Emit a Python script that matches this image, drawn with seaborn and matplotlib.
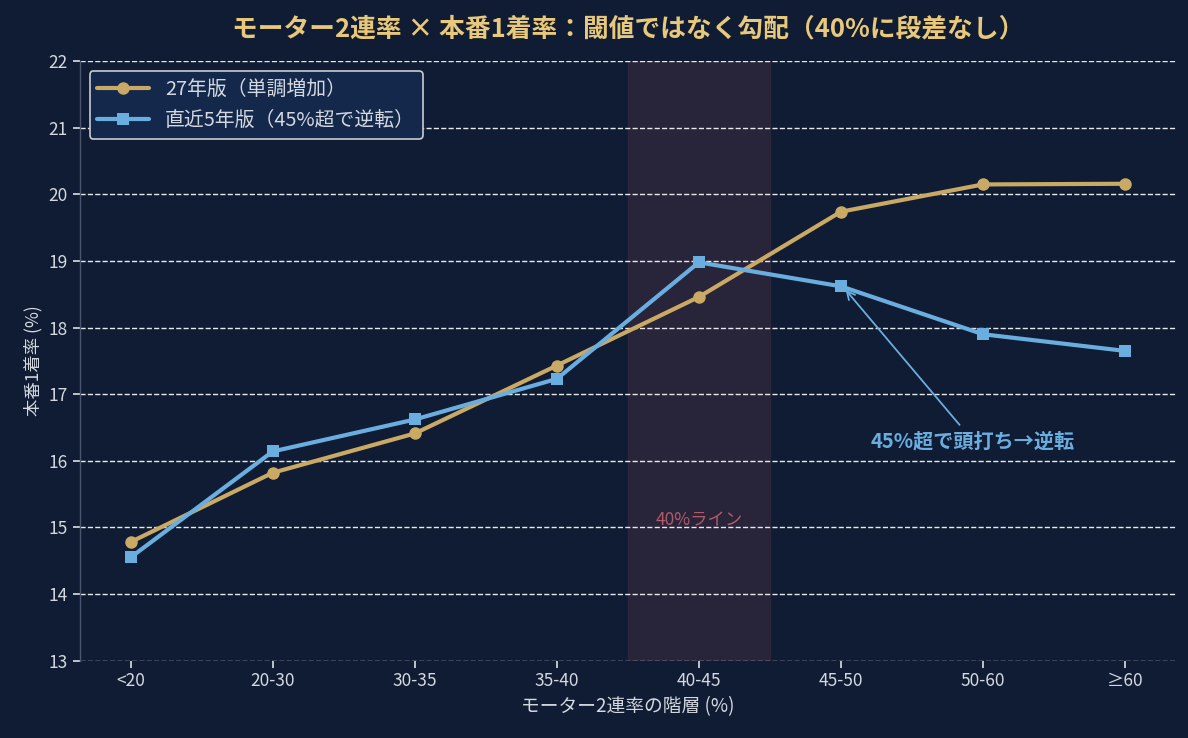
import matplotlib
matplotlib.use("Agg")
import matplotlib.pyplot as plt
import seaborn as sns
import pandas as pd

categories = ["<20", "20-30", "30-35", "35-40", "40-45", "45-50", "50-60", "≥60"]
v27 = [14.78, 15.82, 16.41, 17.43, 18.46, 19.74, 20.15, 20.16]
v5 = [14.55, 16.14, 16.62, 17.23, 18.98, 18.62, 17.90, 17.65]
label27 = "27年版（単調増加）"
label5 = "直近5年版（45%超で逆転）"

BG = "#0f1c33"
GOLD = "#c9a963"
BLUE = "#6aaee0"
TXT = "#d4d8e0"

sns.set_theme(style="dark")
plt.rcParams['font.family'] = ['Noto Sans CJK JP', 'DejaVu Sans']

fig, ax = plt.subplots(figsize=(11.88, 7.38), dpi=100)
fig.patch.set_facecolor(BG)
ax.set_facecolor(BG)

df = pd.DataFrame({"x": list(range(len(categories))) * 2,
                   "y": v27 + v5,
                   "s": [label27] * len(categories) + [label5] * len(categories)})

sns.lineplot(data=df[df.s == label27], x="x", y="y", color=GOLD, marker="o",
             markersize=9, markeredgewidth=0, linewidth=3, ax=ax, label=label27)
sns.lineplot(data=df[df.s == label5], x="x", y="y", color=BLUE, marker="s",
             markersize=9, markeredgewidth=0, linewidth=3, ax=ax, label=label5)

ax.axvspan(3.5, 4.5, color="#3a2a40", alpha=0.6, zorder=0)
ax.text(4.0, 15.11, "40%ライン", color="#b05a6a", fontsize=12.5, ha="center", va="center")

ax.annotate("45%超で頭打ち→逆転", xy=(5.02, 18.6), xytext=(5.93, 16.3),
            color=BLUE, fontsize=14.5, fontweight="bold", ha="center", va="center",
            arrowprops=dict(arrowstyle="->", color=BLUE, lw=1.3))

ax.set_xlim(-0.36, 7.36)
ax.set_ylim(13, 22)
ax.set_xticks(range(len(categories)))
ax.set_xticklabels(categories)
ax.set_yticks(range(13, 23))
ax.tick_params(colors=TXT, labelsize=12.5, length=5, color=TXT, bottom=True, left=True)
ax.grid(axis="y", color="white", linestyle="--", linewidth=1.0, alpha=0.9)
ax.grid(axis="x", visible=False)
for s in ["top", "right", "bottom"]:
    ax.spines[s].set_visible(False)
ax.spines["left"].set_color("#4a5670")
ax.spines["left"].set_linewidth(1)

ax.set_xlabel("モーター2連率の階層 (%)", color=TXT, fontsize=13.5)
ax.set_ylabel("本番1着率 (%)", color=TXT, fontsize=12.5)
ax.set_title("モーター2連率 × 本番1着率：閾値ではなく勾配（40%に段差なし）",
             color="#e8c87a", fontsize=18.5, fontweight="bold", pad=18)

leg = ax.legend(loc="upper left", fontsize=14.3, facecolor="#13284a",
                edgecolor="#c8ccd4", framealpha=1, labelcolor=TXT,
                handlelength=2.6, labelspacing=0.5)
leg.get_frame().set_linewidth(1.2)

fig.subplots_adjust(left=0.067, right=0.99, top=0.917, bottom=0.105)
fig.savefig("out.png", dpi=100, facecolor=BG)
